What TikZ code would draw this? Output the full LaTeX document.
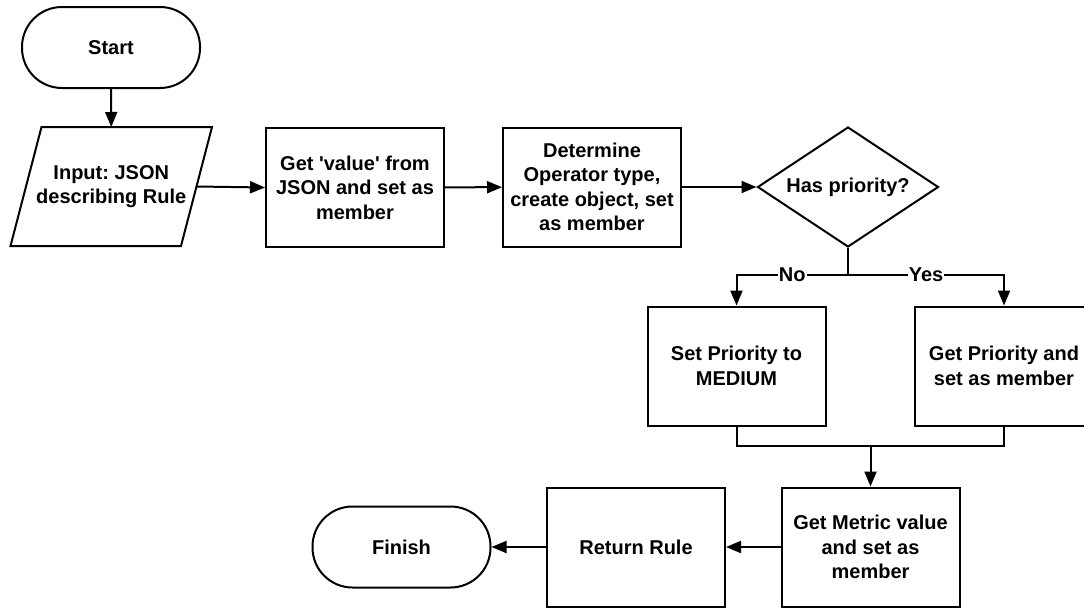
\documentclass[tikz,border=0pt]{standalone}
\usepackage{fontspec}
\setmainfont{Liberation Sans}
\usetikzlibrary{arrows.meta,shapes.geometric}
\frenchspacing

\begin{document}
\begin{tikzpicture}[x=1pt,y=-1pt,line width=2pt,
        font=\fontsize{20}{24.5}\selectfont\bfseries,
        terminal/.style={draw,rectangle,rounded corners=40pt,minimum width=178pt,minimum height=81pt},
        io/.style={rectangle,minimum width=170.5pt,minimum height=119pt,outer sep=0pt,align=center},
        process/.style={draw,rectangle,minimum width=178pt,minimum height=119pt,align=center},
        decision/.style={draw,diamond,aspect=1.5,minimum width=181pt,minimum height=120pt,inner sep=0pt},
        arrow/.style={-{Triangle[length=15pt,width=12pt]}},
        branch/.style={fill=white,inner sep=1pt}]
        \useasboundingbox (0,0) rectangle (1084,608);
        \clip (0,0) rectangle (1084,608);
        % top row
        \node (start) at (111,47.5) [terminal] {Start};
        \node (input) at (111.25,186.5) [io] {Input: JSON\\describing Rule};
        % slanted sides of the input box
        \draw ([xshift=15.5pt]input.north west) -- ([xshift=15.5pt]input.north east)
            -- ([xshift=-15.5pt]input.south east) -- ([xshift=-15.5pt]input.south west) -- cycle;
        \node (getval) at (355,187.5) [process] {Get \textquotesingle value\textquotesingle{} from\\JSON and set as\\member};
        \node (oper) at (592,187) [process] {Determine\\Operator type,\\create object, set\\as member};
        \node (prio) at (848,187) [decision] {Has priority?};
        % middle row
        \node (medium) at (736.5,366) [process] {Set Priority to\\MEDIUM};
        \node (getprio) at (1004,366) [process] {Get Priority and\\set as member};
        % bottom row
        \node (metric) at (870.5,547) [process] {Get Metric value\\and set as\\member};
        \node (retrule) at (636,547) [process] {Return Rule};
        \node (finish) at (401.5,547) [terminal] {Finish};
        \coordinate (split) at (848,275);
        \coordinate (merge) at (870.5,446);

        \draw[arrow] (start)--(input.north);
        \draw[arrow] (input.east)--(getval.west);
        \draw[arrow] (getval)--(oper);
        \draw[arrow] (oper)--(prio);
        \draw (prio.south)--(split);
        \draw[arrow] (split) -| node[pos=0.25,branch] {No} (medium.north);
        \draw[arrow] (split) -| node[pos=0.25,branch] {Yes} (getprio.north);
        \draw (medium.south) |- (merge);
        \draw (getprio.south) |- (merge);
        \draw[arrow] (merge)--(metric.north);
        \draw[arrow] (metric)--(retrule);
        \draw[arrow] (retrule)--(finish);
    \end{tikzpicture}
\end{document}
